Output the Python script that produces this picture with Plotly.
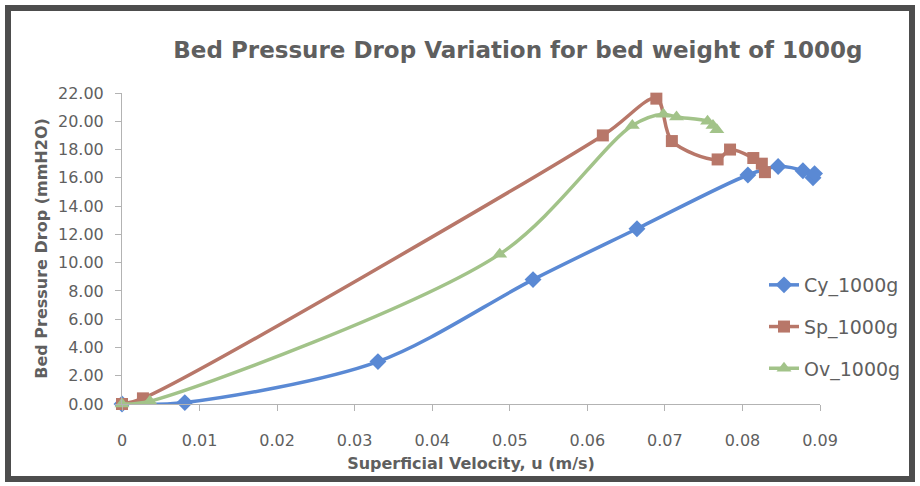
import plotly.graph_objects as go

# ---- data ----
cy_u = [0.0, 0.0081, 0.033, 0.053, 0.0664, 0.0807, 0.0846, 0.0878, 0.0891, 0.0893]
cy_p = [0.0, 0.1, 3.0, 8.8, 12.4, 16.2, 16.8, 16.5, 16.0, 16.3]

sp_u = [0.0, 0.0027, 0.062, 0.0689, 0.0709, 0.0768, 0.0784, 0.0814, 0.0825, 0.0829]
sp_p = [0.0, 0.4, 19.0, 21.6, 18.6, 17.3, 18.0, 17.4, 17.0, 16.4]

ov_u = [0.0, 0.0036, 0.0487, 0.0658, 0.0698, 0.0715, 0.0755, 0.0762, 0.0767]
ov_p = [0.0, 0.2, 10.6, 19.7, 20.5, 20.3, 20.0, 19.7, 19.4]

x_ticks = [0, 0.01, 0.02, 0.03, 0.04, 0.05, 0.06, 0.07, 0.08, 0.09]
x_tick_labels = ["0", "0.01", "0.02", "0.03", "0.04", "0.05", "0.06", "0.07", "0.08", "0.09"]
y_ticks = [0, 2, 4, 6, 8, 10, 12, 14, 16, 18, 20, 22]
y_tick_labels = ["%.2f" % v for v in y_ticks]

FONT = "DejaVu Sans"
GRAY = "#5f5f5f"

fig = go.Figure()
series = [
    ("Cy_1000g", cy_u, cy_p, "#5a89d4", "diamond", 13),
    ("Sp_1000g", sp_u, sp_p, "#b87769", "square", 12),
    ("Ov_1000g", ov_u, ov_p, "#a2c389", "triangle-up", 13),
]
for name, xs, ys, col, sym, sz in series:
    fig.add_trace(go.Scatter(
        x=xs, y=ys, name=name, mode="lines+markers",
        line=dict(color=col, width=3.5, shape="spline", smoothing=0.9),
        marker=dict(symbol=sym, size=sz, color=col),
        cliponaxis=False, legendgroup=name,
    ))

W, H = 920, 486
L, R, T, B = 122, 100, 93, 82
pw, ph = W - L - R, H - T - B

def px2paper_x(px):
    return (px - L) / pw

def px2paper_y(py):
    return (H - B - py) / ph

fig.update_layout(
    width=W, height=H,
    margin=dict(l=L, r=R, t=T, b=B),
    paper_bgcolor="white", plot_bgcolor="white",
    font=dict(family=FONT, color=GRAY, size=14),
    title=dict(text="<b>Bed Pressure Drop Variation for bed weight of 1000g</b>",
               x=0.563, xanchor="center", y=1 - 50 / H, yanchor="middle",
               font=dict(size=23, color=GRAY, family=FONT)),
    xaxis=dict(range=[0, 0.09], tickvals=x_ticks, ticktext=x_tick_labels,
               showgrid=False, zeroline=False, showline=True, linecolor="#b3b3b3",
               linewidth=1, ticks="outside", ticklen=6, tickcolor="#b3b3b3",
               ticklabelstandoff=16,
               tickfont=dict(size=16, color=GRAY),
               title=dict(text="<b>Superficial Velocity, u (m/s)</b>", standoff=8,
                          font=dict(size=16, color=GRAY))),
    yaxis=dict(range=[0, 22], tickvals=y_ticks, ticktext=y_tick_labels,
               showgrid=False, zeroline=False, showline=True, linecolor="#b3b3b3",
               linewidth=1, ticks="outside", ticklen=6, tickcolor="#b3b3b3",
               ticklabelstandoff=8,
               tickfont=dict(size=16, color=GRAY),
               title=dict(text="<b>Bed Pressure Drop (mmH2O)</b>", standoff=6,
                          font=dict(size=16, color=GRAY))),
    legend=dict(x=px2paper_x(764), xanchor="left", y=px2paper_y(266), yanchor="top",
                font=dict(size=19, color=GRAY), tracegroupgap=14,
                bgcolor="rgba(0,0,0,0)"),
    showlegend=True,
)

# outer dark frame of the chart image
fig.add_shape(type="rect", xref="paper", yref="paper",
              x0=px2paper_x(8), x1=px2paper_x(912),
              y0=px2paper_y(479), y1=px2paper_y(8),
              line=dict(color="#4d4d4d", width=6), fillcolor="rgba(0,0,0,0)",
              layer="below")

fig.write_html("out.html")
